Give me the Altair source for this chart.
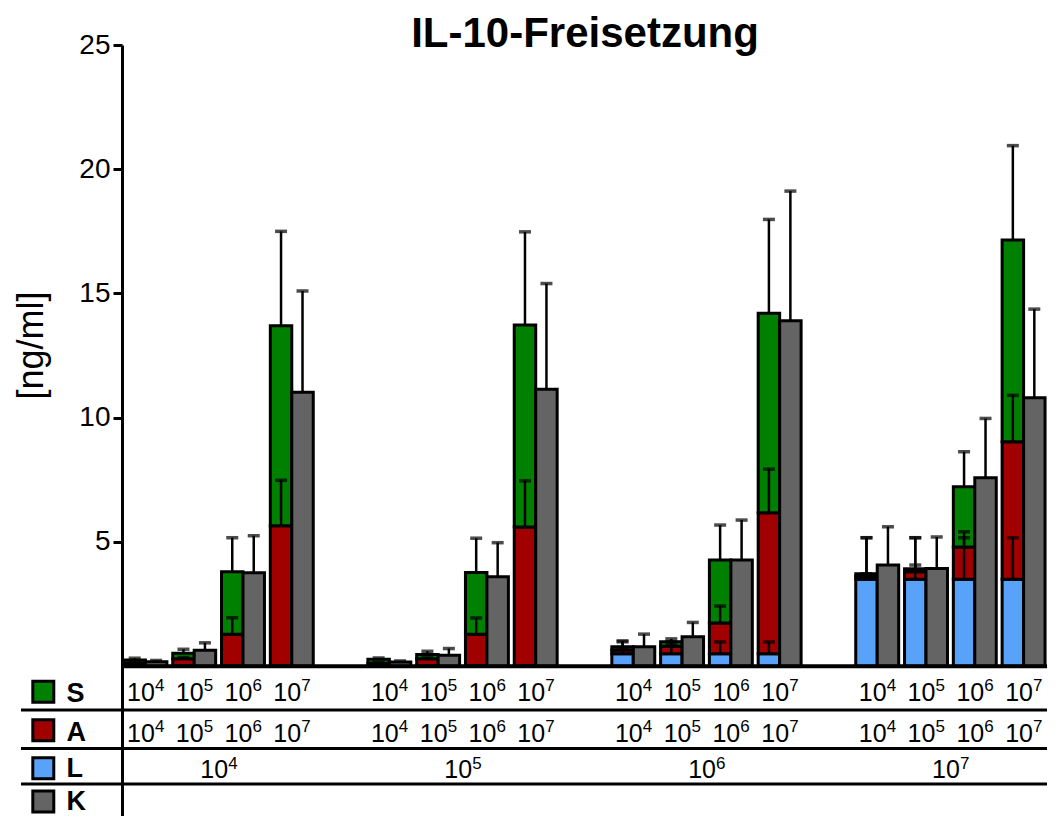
import altair as alt
import pandas as pd

# ---------------- data ----------------
groups = ["4", "5", "6", "7"]   # L concentration exponent (10^x)
concs = ["4", "5", "6", "7"]    # A / S concentration exponent (10^x)

# segment heights (ng/ml) per pair, order: L=10^4 (A/S 10^4..10^7), L=10^5 ..., L=10^6 ..., L=10^7 ...
L_mean = [0.03, 0.03, 0.03, 0.03, 0.03, 0.03, 0.03, 0.03, 0.5, 0.5, 0.5, 0.5, 3.5, 3.5, 3.5, 3.5]
L_sd = [0, 0, 0, 0, 0, 0, 0, 0, 0.48, 0.48, 0.48, 0.48, 1.67, 1.67, 1.67, 1.67]
A_mean = [0.09, 0.27, 1.25, 5.62, 0.09, 0.27, 1.25, 5.57, 0.15, 0.3, 1.24, 5.67, 0.12, 0.3, 1.3, 5.53]
A_sd = [0.03, 0.05, 0.67, 1.83, 0.03, 0.05, 0.66, 1.86, 0.1, 0.1, 0.68, 1.76, 0.1, 0.27, 0.61, 1.87]
S_mean = [0.13, 0.22, 2.52, 8.05, 0.16, 0.17, 2.49, 8.13, 0.13, 0.18, 2.53, 8.03, 0.1, 0.12, 2.42, 8.12]
S_sd = [0.07, 0.16, 1.37, 3.8, 0.05, 0.13, 1.38, 3.75, 0.24, 0.12, 1.41, 3.78, 1.45, 1.25, 1.41, 3.8]
K_mean = [0.18, 0.64, 3.76, 11.02, 0.17, 0.44, 3.6, 11.15, 0.78, 1.18, 4.27, 13.9, 4.07, 3.93, 7.58, 10.8]
K_sd = [0.05, 0.3, 1.49, 4.08, 0.04, 0.27, 1.37, 4.25, 0.51, 0.58, 1.61, 5.22, 1.54, 1.27, 2.39, 3.57]

series_names = ["S", "A", "L", "K"]
series_colors = {"S": "#008000", "A": "#a00000", "L": "#58a2fa", "K": "#646464"}

title_text = "IL-10-Freisetzung"
y_title = "[ng/ml]"
y_ticks = [5, 10, 15, 20, 25]

FONT = "Liberation Sans"

# ---------------- build tables ----------------
rows = []
for gi, g in enumerate(groups):
    for pi, p in enumerate(concs):
        i = gi * 4 + pi
        pair = f"L{g}-{p}"
        base = 0.0
        for k, (ser, m, sd) in enumerate((("L", L_mean[i], L_sd[i]),
                                          ("A", A_mean[i], A_sd[i]),
                                          ("S", S_mean[i], S_sd[i]))):
            rows.append(dict(pair=pair, bar="stack", series=ser, y0=base, y1=base + m,
                             err=base + m + sd, sd=sd, ord=k))
            base += m
        rows.append(dict(pair=pair, bar="K", series="K", y0=0.0, y1=K_mean[i],
                         err=K_mean[i] + K_sd[i], sd=K_sd[i], ord=3))
df = pd.DataFrame(rows).sort_values("ord")
err_df = df[df["sd"] > 0]

lab_df = pd.DataFrame([dict(pair=f"L{g}-{p}", exp=p) for g in groups for p in concs])
grp_df = pd.DataFrame([dict(pair=f"L{g}-5", exp=g) for g in groups])
one = pd.DataFrame({"k": [0]})

x_domain = []
for gi, g in enumerate(groups):
    if gi:
        x_domain.append(f"gap{gi}")
    x_domain += [f"L{g}-{p}" for p in concs]

X = alt.X("pair:N", scale=alt.Scale(domain=x_domain, paddingInner=0.12, paddingOuter=0.04), axis=None)
XO = alt.XOffset("bar:N", scale=alt.Scale(domain=["stack", "K"], paddingInner=0, paddingOuter=0))
color = alt.Color("series:N", scale=alt.Scale(domain=list(series_colors), range=list(series_colors.values())),
                  legend=None)

yscale = alt.Scale(domain=[-6.03, 25], nice=False, zero=False)
yaxis = alt.Axis(values=y_ticks, grid=False, domainColor="black", domainWidth=3, tickColor="black",
                 tickWidth=3, tickSize=9, labelFontSize=28, labelFont=FONT, labelColor="black",
                 labelPadding=3, title=y_title, titleFont=FONT, titleFontSize=36,
                 titleFontWeight="normal", titleColor="black", titleX=-72, titleY=300)

bars = alt.Chart(df).mark_bar(stroke="black", strokeWidth=3).encode(
    x=X, xOffset=XO,
    y=alt.Y("y1:Q", scale=yscale, axis=yaxis),
    y2="y0:Q",
    color=color,
)
err_line = alt.Chart(err_df).mark_rule(color="black", strokeWidth=2.5).encode(
    x=X, xOffset=XO, y="y1:Q", y2="err:Q")
err_cap = alt.Chart(err_df).mark_tick(color="black", thickness=3.5, size=12, orient="horizontal").encode(
    x=X, xOffset=XO, y="err:Q")

baseline = alt.Chart(one).mark_rule(color="black", strokeWidth=4).encode(
    y=alt.datum(0), x=alt.value(0), x2=alt.value(925))

layers = [bars, err_line, err_cap, baseline]

# table lines
for ly in (665, 703.5, 739):
    layers.append(alt.Chart(one).mark_rule(color="black", strokeWidth=3).encode(
        y=alt.value(ly), x=alt.value(-101), x2=alt.value(925)))

# table numbers (10^x)
for ybase in (655.7, 696.7):
    layers.append(alt.Chart(lab_df).mark_text(text="10", font=FONT, fontSize=25, align="center",
                                               baseline="alphabetic", dx=-4.5, color="black").encode(
        x=X, y=alt.value(ybase)))
    layers.append(alt.Chart(lab_df).mark_text(font=FONT, fontSize=17, align="left",
                                               baseline="alphabetic", dx=9.5, dy=-9.5, color="black").encode(
        x=X, y=alt.value(ybase), text="exp:N"))
layers.append(alt.Chart(grp_df).mark_text(text="10", font=FONT, fontSize=25, align="center",
                                          baseline="alphabetic", dx=20, color="black").encode(
    x=X, y=alt.value(733.3)))
layers.append(alt.Chart(grp_df).mark_text(font=FONT, fontSize=17, align="left",
                                          baseline="alphabetic", dx=34, dy=-9.5, color="black").encode(
    x=X, y=alt.value(733.3), text="exp:N"))

# legend squares + labels
sq_y = {"S": 646.7, "A": 685.3, "L": 723.3, "K": 756.5}
lab_y = {"S": 656.7, "A": 696.0, "L": 732.3, "K": 765.0}
for s in series_names:
    layers.append(alt.Chart(one).mark_square(size=440, filled=True, fill=series_colors[s], stroke="black",
                                             strokeWidth=3, opacity=1).encode(
        x=alt.value(-78.7), y=alt.value(sq_y[s])))
    layers.append(alt.Chart(one).mark_text(text=s, font=FONT, fontSize=27, fontWeight="bold", align="left",
                                           baseline="alphabetic", color="black").encode(
        x=alt.value(-55.5), y=alt.value(lab_y[s])))

# title
layers.append(alt.Chart(one).mark_text(text=title_text, font=FONT, fontSize=42, fontWeight="bold",
                                       align="center", baseline="alphabetic", color="black").encode(
    x=alt.value(463), y=alt.value(2)))

chart = alt.layer(*layers).properties(
    width=925, height=771,
    autosize=alt.AutoSizeParams(type="none"),
    padding={"left": 114, "top": 37, "right": 0, "bottom": 0},
).configure_view(stroke=None)

chart.save("out.html", embed_options={"renderer": "svg", "actions": False})
